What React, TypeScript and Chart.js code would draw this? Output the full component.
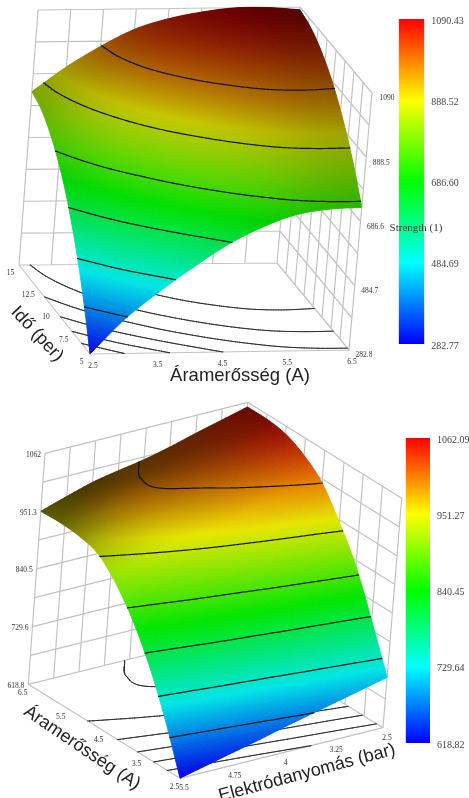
import { useEffect, useRef } from "react";
import { Chart, registerables } from "chart.js";

Chart.register(...registerables);

// ---------- Top surface: Strength over Áramerősség (columns) and Idő (rows)
const currentTicksTop = ["2.5", "3.5", "4.5", "5.5", "6.5"];
const timeTicks = ["5", "7.5", "10", "12.5", "15"];
const strengthTicksTop = ["282.8", "484.7", "686.6", "888.5", "1090"];
const time5 = [283, 392, 477, 553, 622, 674, 711, 727, 731];
const time6 = [404, 506, 586, 657, 718, 763, 794, 807, 809];
const time7 = [510, 605, 682, 749, 802, 842, 868, 877, 876];
const time9 = [600, 691, 763, 826, 874, 908, 930, 937, 934];
const time10 = [677, 763, 834, 893, 935, 964, 983, 988, 983];
const time11 = [737, 820, 888, 944, 983, 1009, 1025, 1028, 1022];
const time12 = [784, 863, 930, 985, 1020, 1044, 1057, 1059, 1052];
const time14 = [816, 893, 959, 1012, 1045, 1067, 1079, 1080, 1072];
const time15 = [832, 909, 973, 1026, 1058, 1078, 1090, 1090, 1082];
const levelsTop = [398, 513, 628, 744, 859, 975];
const barTicksTop = [282.77, 484.69, 686.6, 888.52, 1090.43];

// ---------- Bottom surface: Strength over Elektródanyomás (columns) and Áramerősség (rows)
const pressureTicks = ["5.5", "4.75", "4", "3.25", "2.5"];
const currentTicksBottom = ["2.5", "3.5", "4.5", "5.5", "6.5"];
const strengthTicksBottom = ["618.8", "729.6", "840.5", "951.3", "1062"];
const amp25 = [619, 631, 643, 655, 668, 680, 692, 704, 716];
const amp30 = [712, 723, 735, 746, 757, 769, 780, 791, 803];
const amp35 = [792, 803, 815, 827, 838, 850, 861, 873, 885];
const amp40 = [856, 867, 879, 890, 901, 913, 924, 935, 947];
const amp45 = [905, 917, 928, 940, 952, 963, 975, 987, 999];
const amp50 = [938, 949, 961, 972, 983, 995, 1006, 1017, 1029];
const amp55 = [949, 973, 987, 996, 1004, 1012, 1024, 1037, 1047];
const amp60 = [952, 978, 991, 998, 1007, 1018, 1029, 1041, 1053];
const amp65 = [951, 967, 982, 992, 1001, 1013, 1027, 1040, 1053];
const levelsBottom = [682, 745, 809, 872, 935, 999];
const barTicksBottom = [618.82, 729.64, 840.45, 951.27, 1062.09];

type Pt = [number, number];
type Panel = {
  top: number; bottom: number; grid: number[][]; zMin: number; zMax: number; levels: number[];
  box: Record<string, Pt>; light: number[];
  uTicks: string[]; vTicks: string[]; wTicks: string[];
  uOff: Pt; vOff: Pt; wOff: Pt; wAlign: CanvasTextAlign;
  titles: { text: string; x: number; y: number; rot: number; size: number }[];
};

const panelTop: Panel = {
  top: 0, bottom: 395,
  grid: [time5, time6, time7, time9, time10, time11, time12, time14, time15],
  zMin: 282.77, zMax: 1090.43, levels: levelsTop,
  box: { a000: [90, 354], a100: [349, 350], a010: [19, 265], a110: [277, 263], a001: [110, 98], a101: [372, 93], a011: [38, 10], a111: [300, 7] },
  light: [-0.45, -0.65, 0.15],
  uTicks: currentTicksTop, vTicks: timeTicks, wTicks: strengthTicksTop,
  uOff: [3, 12.5], vOff: [-8.5, 8], wOff: [15, 5.5], wAlign: "center",
  titles: [
    { text: "Áramerősség (A)", x: 240, y: 376, rot: 0, size: 18.5 },
    { text: "Idő (per)", x: 37, y: 334, rot: 47, size: 18 },
  ],
};

const panelBottom: Panel = {
  top: 395, bottom: 798,
  grid: [amp25, amp30, amp35, amp40, amp45, amp50, amp55, amp60, amp65],
  zMin: 618.82, zMax: 1062.09, levels: levelsBottom,
  box: { a000: [180, 778.3], a100: [383, 727.7], a010: [28.3, 684.3], a110: [231, 634], a001: [198, 548], a101: [401.7, 498.3], a011: [45, 453.3], a111: [247.7, 402.3] },
  light: [0.15, -0.9, 0.3],
  uTicks: pressureTicks, vTicks: currentTicksBottom, wTicks: strengthTicksBottom,
  uOff: [4, 10], vOff: [-5.5, 9], wOff: [-4, 1.5], wAlign: "right",
  titles: [
    { text: "Áramerősség (A)", x: 82, y: 748, rot: 34, size: 18 },
    { text: "Elektródanyomás (bar)", x: 307, y: 773, rot: -15, size: 18 },
  ],
};

const lerp = (a: number, b: number, t: number) => a + (b - a) * t;

function project(p: Panel, u: number, v: number, w: number) {
  const b = p.box;
  const at = (i: 0 | 1) =>
    lerp(
      lerp(lerp(b.a000[i], b.a100[i], u), lerp(b.a010[i], b.a110[i], u), v),
      lerp(lerp(b.a001[i], b.a101[i], u), lerp(b.a011[i], b.a111[i], u), v),
      w
    );
  return { x: at(0), y: at(1) };
}

const spline = (p0: number, p1: number, p2: number, p3: number, t: number) =>
  0.5 * (2 * p1 + (p2 - p0) * t + (2 * p0 - 5 * p1 + 4 * p2 - p3) * t * t + (3 * p1 - p0 - 3 * p2 + p3) * t * t * t);

function resample(line: number[], sub: number) {
  const n = line.length - 1;
  const g = (i: number) => (i < 0 ? 2 * line[0] - line[1] : i > n ? 2 * line[n] - line[n - 1] : line[i]);
  const out: number[] = [];
  for (let i = 0; i < n; i++) for (let k = 0; k < sub; k++) out.push(spline(g(i - 1), g(i), g(i + 1), g(i + 2), k / sub));
  out.push(line[n]);
  return out;
}

function refine(grid: number[][], sub: number) {
  const rows = grid.map((r) => resample(r, sub));
  const cols = rows[0].map((_, j) => resample(rows.map((r) => r[j]), sub));
  return cols[0].map((_, i) => cols.map((c) => c[i]));
}

const normalised = (p: Panel) => p.grid.map((r) => r.map((z) => (z - p.zMin) / (p.zMax - p.zMin)));

// lighting is worked out on the read grid, so that it stays smooth on the fine mesh
function shadeMesh(p: Panel, sub: number) {
  const g = normalised(p);
  const n = g.length - 1;
  const [lx, ly, lz] = p.light;
  const raw = g.map((row, i) =>
    row.map((_, j) => {
      const j0 = Math.max(0, j - 1), j1 = Math.min(n, j + 1), i0 = Math.max(0, i - 1), i1 = Math.min(n, i + 1);
      const gu = ((g[i][j1] - g[i][j0]) / (j1 - j0)) * n;
      const gv = ((g[i1][j] - g[i0][j]) / (i1 - i0)) * n;
      const d = (-gu * lx - gv * ly + lz) / Math.hypot(gu, gv, 1);
      return 0.12 + 1.1 * d;
    })
  );
  const soft = raw.map((row, i) =>
    row.map((_, j) => {
      let s = 0, c = 0;
      for (let a = -1; a <= 1; a++)
        for (let b = -1; b <= 1; b++) {
          const r = raw[i + a]?.[j + b];
          if (r !== undefined) {
            const k = a === 0 && b === 0 ? 3 : 1;
            s += r * k;
            c += k;
          }
        }
      return s / c;
    })
  );
  return refine(soft, sub);
}

function colourAt(w: number, shade: number) {
  const stops = [[0, 0, 255], [0, 255, 255], [0, 255, 0], [255, 255, 0], [255, 0, 0]];
  const t = Math.min(3.9999, Math.max(0, w * 4));
  const i = Math.floor(t);
  const c = [0, 1, 2].map((k) => Math.round(lerp(stops[i][k], stops[i + 1][k], t - i) * shade));
  return `rgb(${c[0]},${c[1]},${c[2]})`;
}

function contour(mesh: number[][], level: number, emit: (a: Pt, b: Pt) => void) {
  const n = mesh.length - 1;
  const m = mesh[0].length - 1;
  for (let i = 0; i < n; i++)
    for (let j = 0; j < m; j++) {
      const q = [mesh[i][j], mesh[i][j + 1], mesh[i + 1][j + 1], mesh[i + 1][j]];
      const c: Pt[] = [[j, i], [j + 1, i], [j + 1, i + 1], [j, i + 1]];
      const hits: Pt[] = [];
      for (let e = 0; e < 4; e++) {
        const f = (e + 1) % 4;
        if (q[e] < level !== q[f] < level) {
          const t = (level - q[e]) / (q[f] - q[e]);
          hits.push([lerp(c[e][0], c[f][0], t) / m, lerp(c[e][1], c[f][1], t) / n]);
        }
      }
      if (hits.length >= 2) emit(hits[0], hits[1]);
      if (hits.length === 4) emit(hits[2], hits[3]);
    }
}

const GAP = { x: NaN, y: NaN };
const SUB = 20;

function buildDatasets(p: Panel, mesh: number[][]) {
  const walls: { x: number; y: number }[] = [];
  const seg = (a: number[], b: number[]) => {
    walls.push(project(p, a[0], a[1], a[2]), project(p, b[0], b[1], b[2]), GAP);
  };
  for (let i = 0; i <= 8; i++) {
    const t = i / 8;
    seg([0, 1, t], [1, 1, t]);
    seg([1, 0, t], [1, 1, t]);
    seg([t, 1, 0], [t, 1, 1]);
    seg([1, t, 0], [1, t, 1]);
  }
  seg([0, 0, 0], [1, 0, 0]);
  seg([0, 0, 0], [0, 1, 0]);

  const floor: { x: number; y: number }[] = [];
  const lines: { x: number; y: number }[] = [];
  p.levels.forEach((z) => {
    const w = (z - p.zMin) / (p.zMax - p.zMin);
    contour(mesh, w, (a, b) => {
      floor.push(project(p, a[0], a[1], 0), project(p, b[0], b[1], 0), GAP);
      lines.push(project(p, a[0], a[1], w), project(p, b[0], b[1], w), GAP);
    });
  });

  const points: { x: number; y: number }[] = [];
  const n = mesh.length - 1;
  mesh.forEach((row, i) => row.forEach((w, j) => points.push(project(p, j / n, i / n, w))));

  const line = (label: string, data: any[], color: string, width: number, order: number) => ({
    label, data, order, showLine: true, pointRadius: 0, borderColor: color, borderWidth: width,
    spanGaps: false, tension: 0, borderCapStyle: "round" as const,
  });
  return [
    line("grid", walls, "#c2c2c2", 1.2, 4),
    line("floor contours", floor, "#2a2a2a", 1, 3),
    { label: "Strength", data: points, order: 2, showLine: false, pointRadius: 0 },
    line("surface contours", lines, "#141414", 1.2, 1),
  ];
}

function Surface({ p }: { p: Panel }) {
  const ref = useRef<HTMLCanvasElement>(null);
  useEffect(() => {
    const mesh = refine(normalised(p), SUB);
    const shades = shadeMesh(p, SUB);
    const n = mesh.length - 1;
    const surfacePlugin = {
      id: "surface",
      afterDatasetDraw(chart: any, args: any) {
        if (chart.data.datasets[args.index].label !== "Strength") return;
        const ctx = chart.ctx;
        const el = args.meta.data;
        const at = (i: number, j: number) => el[i * (n + 1) + j];
        ctx.save();
        ctx.lineWidth = 0.8;
        ctx.lineJoin = "round";
        for (let i = n - 1; i >= 0; i--)
          for (let j = n - 1; j >= 0; j--) {
            const w = (mesh[i][j] + mesh[i][j + 1] + mesh[i + 1][j] + mesh[i + 1][j + 1]) / 4;
            const shade = Math.min(0.9, Math.max(0.1, shades[i][j]));
            const col = colourAt(w, shade);
            ctx.fillStyle = col;
            ctx.strokeStyle = col;
            ctx.beginPath();
            const a = at(i, j), b = at(i, j + 1), c = at(i + 1, j + 1), e = at(i + 1, j);
            ctx.moveTo(a.x, a.y);
            ctx.lineTo(b.x, b.y);
            ctx.lineTo(c.x, c.y);
            ctx.lineTo(e.x, e.y);
            ctx.closePath();
            ctx.fill();
            ctx.stroke();
          }
        ctx.restore();
      },
      afterDraw(chart: any) {
        const ctx = chart.ctx;
        const sx = chart.scales.x;
        const sy = chart.scales.y;
        const tick = (texts: string[], pos: (t: number) => number[], off: Pt, align: CanvasTextAlign) => {
          texts.forEach((s, k) => {
            const q = pos(k / (texts.length - 1));
            const o = project(p, q[0], q[1], q[2]);
            ctx.textAlign = align;
            ctx.fillText(s, sx.getPixelForValue(o.x) + off[0], sy.getPixelForValue(o.y) + off[1]);
          });
        };
        ctx.save();
        ctx.fillStyle = "#333";
        ctx.textBaseline = "middle";
        ctx.font = '7.5px "Liberation Serif"';
        tick(p.uTicks, (t) => [t, 0, 0], p.uOff, "center");
        tick(p.vTicks, (t) => [0, t, 0], p.vOff, "center");
        const wEdge = p.wAlign === "right" ? [0, 1] : [1, 0];
        tick(p.wTicks, (t) => [wEdge[0], wEdge[1], t], p.wOff, p.wAlign);
        ctx.fillStyle = "#222";
        ctx.textAlign = "center";
        p.titles.forEach((t) => {
          ctx.save();
          ctx.translate(sx.getPixelForValue(t.x), sy.getPixelForValue(t.y));
          ctx.rotate((t.rot * Math.PI) / 180);
          ctx.font = `${t.size}px "Liberation Sans"`;
          ctx.fillText(t.text, 0, 0);
          ctx.restore();
        });
        ctx.restore();
      },
    };
    const chart = new Chart(ref.current!, {
      type: "scatter",
      data: { datasets: buildDatasets(p, mesh) as any },
      options: {
        animation: false,
        responsive: false,
        events: [],
        layout: { padding: 0 },
        plugins: { legend: { display: false }, tooltip: { enabled: false }, title: { display: false } },
        scales: {
          x: { type: "linear", min: 0, max: 469, display: false },
          y: { type: "linear", min: p.top, max: p.bottom, reverse: true, display: false },
        },
      },
      plugins: [surfacePlugin as any],
    });
    return () => chart.destroy();
  }, [p]);
  return (
    <canvas
      ref={ref}
      width={469}
      height={p.bottom - p.top}
      style={{ position: "absolute", left: 0, top: p.top, filter: "blur(0.6px)" }}
    />
  );
}

type Bar = { left: number; barLeft: number; barRight: number; barTop: number; barBottom: number; ticks: number[]; note?: string; noteX?: number; noteY?: number };

const barA: Bar = { left: 385, barLeft: 398.7, barRight: 424.3, barTop: 19, barBottom: 344, ticks: barTicksTop, note: "Strength (1)", noteX: 416, noteY: 228 };
const barB: Bar = { left: 392, barLeft: 405.7, barRight: 430, barTop: 438.3, barBottom: 744.3, ticks: barTicksBottom };

function ColorBar({ b }: { b: Bar }) {
  const ref = useRef<HTMLCanvasElement>(null);
  const pad = 7;
  useEffect(() => {
    const lo = b.ticks[0];
    const hi = b.ticks[b.ticks.length - 1];
    const notePlugin = {
      id: "note",
      afterDraw(chart: any) {
        if (!b.note) return;
        const c = chart.ctx;
        c.save();
        c.font = '11px "Liberation Serif"';
        c.fillStyle = "#333";
        c.textAlign = "center";
        c.textBaseline = "middle";
        c.fillText(b.note, b.noteX! - b.left, b.noteY! - (b.barTop - pad));
        c.restore();
      },
    };
    const chart = new Chart(ref.current!, {
      type: "bar",
      data: {
        labels: ["Strength"],
        datasets: [
          {
            data: [[lo, hi]] as any,
            barPercentage: 1,
            categoryPercentage: 1,
            borderWidth: 0,
            backgroundColor: (ctx: any) => {
              const a = ctx.chart.chartArea;
              if (!a) return "#0f0";
              const g = ctx.chart.ctx.createLinearGradient(0, a.bottom, 0, a.top);
              ["#0000ff", "#00ffff", "#00ff00", "#ffff00", "#ff0000"].forEach((s, i) => g.addColorStop(i / 4, s));
              return g;
            },
          },
        ],
      },
      options: {
        animation: false,
        responsive: false,
        events: [],
        layout: { padding: { left: b.barLeft - b.left, top: pad, bottom: pad, right: 0 } },
        plugins: { legend: { display: false }, tooltip: { enabled: false } },
        scales: {
          x: { display: false },
          y: {
            type: "linear",
            position: "right",
            min: lo,
            max: hi,
            grid: { display: false, drawTicks: false },
            border: { display: false },
            afterBuildTicks: (s: any) => {
              s.ticks = b.ticks.map((value) => ({ value }));
            },
            afterFit: (s: any) => {
              s.width = 469 - b.barRight;
              s.paddingTop = 0;
              s.paddingBottom = 0;
            },
            ticks: {
              autoSkip: false,
              padding: 7,
              labelOffset: 2,
              color: "#444",
              font: { family: '"Liberation Serif"', size: 10 },
              callback: (v: any) => Number(v).toFixed(2),
            },
          },
        },
      },
      plugins: [notePlugin as any],
    });
    return () => chart.destroy();
  }, [b]);
  return (
    <canvas
      ref={ref}
      width={469 - b.left}
      height={b.barBottom - b.barTop + pad * 2}
      style={{ position: "absolute", left: b.left, top: b.barTop - pad, filter: "blur(0.4px)" }}
    />
  );
}

export default function App() {
  return (
    <div style={{ position: "absolute", left: 0, top: 0, width: 469, height: 798, overflow: "hidden", background: "#fff" }}>
      <Surface p={panelTop} />
      <Surface p={panelBottom} />
      <ColorBar b={barA} />
      <ColorBar b={barB} />
    </div>
  );
}
